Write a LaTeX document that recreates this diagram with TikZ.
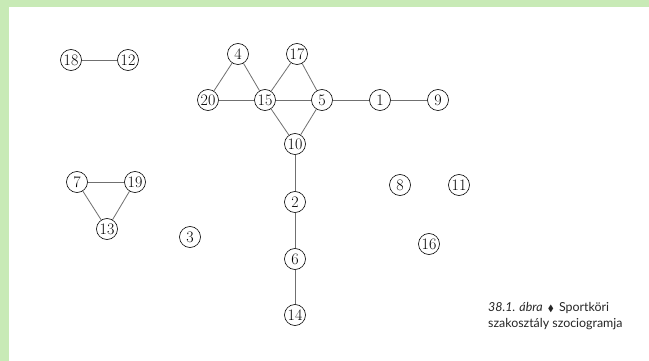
\documentclass[tikz,border=0pt]{standalone}
\usepackage{fontspec}
\usepackage{amssymb}
\newfontfamily\capfont{Lato}
\usetikzlibrary{positioning}

\definecolor{bandgreen}{HTML}{C8EAB6}
\definecolor{edgegray}{HTML}{707070}

\begin{document}
\begin{tikzpicture}[x=1pt, y=-1pt,
    tag/.style={draw, circle, line width=0.6pt, minimum size=21pt, inner sep=0pt, font=\fontsize{16}{16}\selectfont},
    link/.style={draw=edgegray, line width=0.8pt}]

    \useasboundingbox (0,0) rectangle (649,361);
    \fill[white] (0,0) rectangle (649,361);
    \fill[bandgreen] (0,0) rectangle (649,7);
    \fill[bandgreen] (0,0) rectangle (9,361);

    \node[tag] (n18) at (71,60) {18};
    \node[tag] (n12) at (128,60) {12};

    \node[tag] (n4) at (238,54) {4};
    \node[tag] (n17) at (297,54) {17};
    \node[tag] (n20) at (208,100) {20};
    \node[tag] (n15) at (265,100) {15};
    \node[tag] (n5) at (322,100) {5};
    \node[tag] (n1) at (380,100) {1};
    \node[tag] (n9) at (438,100) {9};
    \node[tag] (n10) at (295,144) {10};
    \node[tag] (n2) at (295,202) {2};
    \node[tag] (n6) at (295,259) {6};
    \node[tag] (n14) at (295,315) {14};

    \node[tag] (n7) at (77,182) {7};
    \node[tag] (n19) at (135,182) {19};
    \node[tag] (n13) at (107,229) {13};

    \node[tag] (n3) at (190,237) {3};
    \node[tag] (n8) at (400,185) {8};
    \node[tag] (n11) at (459,185) {11};
    \node[tag] (n16) at (429,244) {16};

    \draw[link] (n18) -- (n12);
    \draw[link] (n4) -- (n20);
    \draw[link] (n4) -- (n15);
    \draw[link] (n20) -- (n15);
    \draw[link] (n17) -- (n15);
    \draw[link] (n17) -- (n5);
    \draw[link] (n15) -- (n5);
    \draw[link] (n5) -- (n1);
    \draw[link] (n1) -- (n9);
    \draw[link] (n15) -- (n10);
    \draw[link] (n5) -- (n10);
    \draw[link] (n10) -- (n2);
    \draw[link] (n2) -- (n6);
    \draw[link] (n6) -- (n14);
    \draw[link] (n7) -- (n19);
    \draw[link] (n7) -- (n13);
    \draw[link] (n19) -- (n13);

    \node[anchor=north west, align=left, inner sep=0pt, text=black!85,
        font=\capfont\fontsize{12.4}{16}\selectfont] (cap) at (488,302)
        {\textit{38.1. ábra}\, {\small$\blacklozenge$}\, Sportköri\\szakosztály szociogramja};

\end{tikzpicture}
\end{document}
